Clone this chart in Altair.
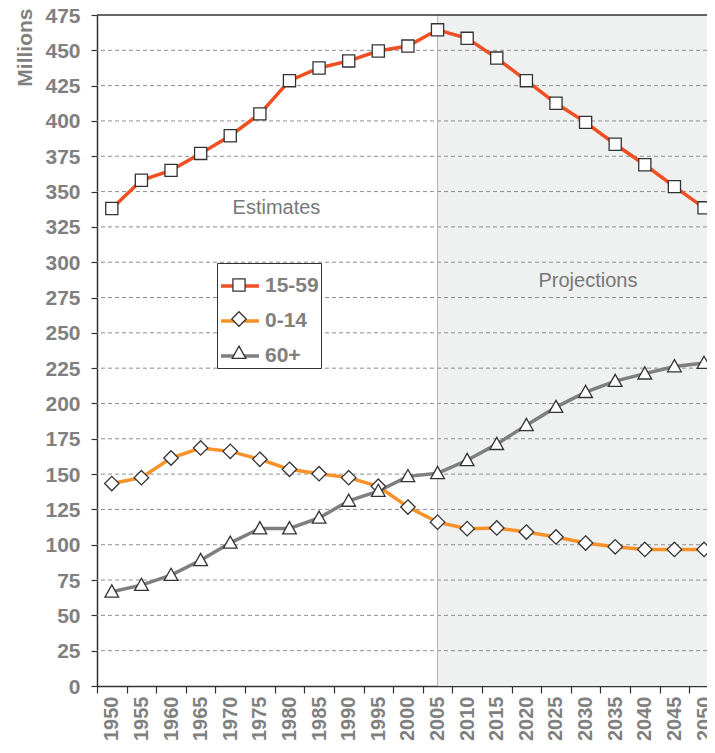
import altair as alt
import pandas as pd

# ---------------- data ----------------
years = list(range(1950, 2051, 5))
ages_15_59 = [338, 358, 365, 377, 389.5, 405, 428.5, 437.5, 442.5, 449.5, 453, 464.5,
              458.5, 444.5, 428.5, 412.5, 399, 383.5, 369, 353.5, 338.5]
ages_0_14 = [143.3, 147.5, 161.4, 168.5, 166.1, 160.5, 153.4, 150.3, 147.5, 141.4, 126.7,
             116, 111.4, 111.9, 109, 105.5, 101.2, 98.5, 96.7, 96.7, 96.7]
ages_60_plus = [66.7, 71.4, 78.5, 89, 101.3, 111.5, 111.5, 119, 131, 138, 148.4, 150.6,
                159.8, 171.2, 184.6, 197.4, 208, 215.8, 221.1, 226.2, 228.6]

series_names = ["15-59", "0-14", "60+"]
series_colors = ["#f04e23", "#f7922a", "#7f7f7f"]
series_shapes = [
    "M-0.32,-0.32H0.32V0.32H-0.32Z",           # square
    "M0,-0.38L0.38,0L0,0.38L-0.38,0Z",          # diamond
    "M0,-0.36L0.36,0.28L-0.36,0.28Z",           # triangle
]

y_ticks = list(range(0, 476, 25))
x_tick_positions = [y - 2.5 for y in years]   # ticks fall between categories
projection_start = [2005]

notes = ["Estimates", "Projections"]
note_year = [1977.8, 2030.4]
note_value = [338.5, 287]

# ---------------- tables ----------------
rows = []
for name, vals in zip(series_names, [ages_15_59, ages_0_14, ages_60_plus]):
    for yr, v in zip(years, vals):
        rows.append({"year": yr, "value": v, "series": name, "series_s": name})
df = pd.DataFrame(rows)
df_shade = pd.DataFrame({"year": projection_start})
df_grid = pd.DataFrame({"value": y_ticks[1:-1]})
df_top = pd.DataFrame({"value": y_ticks[-1:]})
df_notes = pd.DataFrame({"label": notes, "year": note_year, "value": note_value})

FONT = "Liberation Sans"
GRAY_TXT = "#808080"
PLOT_W = 610

x_scale = alt.Scale(domain=[1947.5, 2050.5], nice=False, zero=False)
y_scale = alt.Scale(domain=[0, 475], nice=False, zero=True)

x_axis = alt.Axis(
    values=x_tick_positions, labelExpr="datum.value + 2.5", labelOffset=14.8,
    labelAngle=270, labelAlign="right", labelBaseline="middle",
    labelFont=FONT, labelFontSize=20, labelFontWeight="bold", labelColor=GRAY_TXT,
    labelPadding=3, labelOverlap=False, labelFlush=False, labelBound=False,
    tickSize=7, tickColor="#333333", tickWidth=1.2,
    domainColor="#333333", domainWidth=1.5, grid=False, title=None,
)
y_axis = alt.Axis(
    values=y_ticks, labelFont=FONT, labelFontSize=21, labelFontWeight="bold",
    labelColor=GRAY_TXT, labelPadding=11, labelOffset=1, labelOverlap=False,
    labelFlush=False, tickSize=6, tickColor="#333333", tickWidth=1.2,
    domainColor="#333333", domainWidth=1.5, grid=False,
    title="Millions", titleFont=FONT, titleFontSize=21, titleFontWeight="bold",
    titleColor=GRAY_TXT, titleAngle=270, titleAlign="right", titleBaseline="middle",
    titleX=-72, titleY=-7,
)

X = alt.X("year:Q", scale=x_scale, axis=x_axis)
Y = alt.Y("value:Q", scale=y_scale, axis=y_axis)

shade = alt.Chart(df_shade).mark_rect(color="#eff0f0").encode(
    x=X, x2=alt.value("width"), y=alt.value(0), y2=alt.value("height"),
)

grid = alt.Chart(df_grid).mark_rule(color="#8e8e8e", strokeWidth=1, strokeDash=[4, 3]).encode(
    y=Y,
)

divider = alt.Chart(df_shade).mark_rule(color="#b5b5b5", strokeWidth=1).encode(x=X)

top_border = alt.Chart(df_top).mark_rule(color="#333333", strokeWidth=1.5).encode(y=Y)

legend_common = dict(
    orient="none", legendX=120, legendY=248, title=None, padding=2, rowPadding=4,
    symbolSize=1444, labelFont=FONT, labelFontSize=21, labelFontWeight="bold",
    labelOffset=4, labelLimit=200,
)

lines = alt.Chart(df).mark_line(strokeWidth=3.5).encode(
    x=X, y=Y,
    color=alt.Color(
        "series:N",
        scale=alt.Scale(domain=series_names, range=series_colors),
        legend=alt.Legend(symbolType="stroke", symbolStrokeWidth=3.5,
                          fillColor="white", strokeColor="#333333", zindex=1,
                          labelColor=GRAY_TXT, **legend_common),
    ),
    order=alt.Order("year:Q"),
)

points = alt.Chart(df).mark_point(
    filled=False, fill="white", stroke="#333333", strokeWidth=1.3, size=1444, opacity=1,
    fillOpacity=1,
).encode(
    x=X, y=Y,
    shape=alt.Shape(
        "series_s:N",
        scale=alt.Scale(range=series_shapes),
        sort=series_names,
        legend=alt.Legend(symbolStrokeWidth=1.3, symbolOpacity=1, zindex=2,
                          labelOpacity=0, **legend_common),
    ),
)

texts = alt.Chart(df_notes).mark_text(
    font=FONT, fontSize=20, color="#777777", align="center", baseline="middle",
).encode(x=X, y=Y, text="label:N")

chart = alt.layer(shade, grid, divider, top_border, lines, points, texts).properties(
    width=PLOT_W, height=671,
    padding={"left": 89, "top": 7, "right": 0, "bottom": 55},
    autosize=alt.AutoSizeParams(type="none"),
).configure_view(stroke=None)

chart.save("out.html", embed_options={"renderer": "svg", "actions": False})
